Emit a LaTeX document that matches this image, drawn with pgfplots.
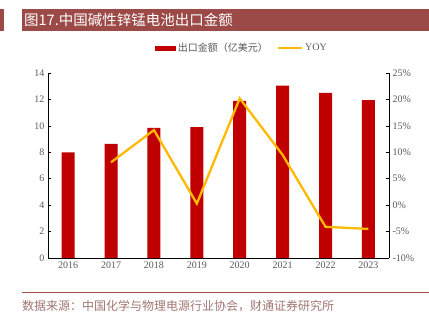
\documentclass[border=0pt]{standalone}
\usepackage{pgfplots}
\pgfplotsset{compat=1.18}
\usepackage{fontspec}
\setmainfont{Liberation Serif}
\newfontfamily\cjk{Noto Sans CJK SC}
\definecolor{barred}{HTML}{C00000}
\definecolor{yoy}{HTML}{FFB900}
\definecolor{titlebar}{HTML}{9B4A47}
\definecolor{srctext}{HTML}{A07672}
\definecolor{ticktext}{HTML}{595959}
\begin{document}
\begin{tikzpicture}
\useasboundingbox (0,0) rectangle (429bp,-326bp);
\fill[titlebar] (0,-9bp) rectangle (4bp,-31bp);
\fill[titlebar] (22bp,-9bp) rectangle (429bp,-31bp);
\node[anchor=west,text=white,inner sep=0pt,font=\cjk\fontsize{14.5bp}{16bp}\selectfont] at (24bp,-20bp) {图17.中国碱性锌锰电池出口金额};
\draw[titlebar,line width=0.8bp] (22bp,-292bp) -- (429bp,-292bp);
\node[anchor=west,text=srctext,inner sep=0pt,font=\cjk\fontsize{12bp}{14bp}\selectfont] at (22bp,-306bp) {数据来源：中国化学与物理电源行业协会，财通证券研究所};
\begin{axis}[
  at={(48bp,-258bp)}, anchor=south west,
  scale only axis, width=341bp, height=185bp,
  xmin=-0.47, xmax=7.48, ymin=0, ymax=14,
  axis lines*=left,
  axis line style={black, line width=0.7bp},
  xtick={0,...,7}, xticklabels={2016,2017,2018,2019,2020,2021,2022,2023},
  x tick style={draw=none},
  ytick={0,2,...,14},
  tick align=inside, major tick length=3bp,
  y tick style={black, line width=0.6bp},
  tick label style={font=\fontsize{10bp}{12bp}\selectfont, text=ticktext},
  /pgf/number format/assume math mode=true,
  legend style={draw=none, fill=none, at={(0.304,1.135)}, anchor=west, legend columns=2,
    font=\fontsize{10bp}{12bp}\selectfont, text=ticktext,
    /tikz/every even column/.append style={column sep=7bp}},
  clip=false,
]
\addplot[ybar, bar width=13bp, fill=barred, draw=none,
  legend image code/.code={\fill[barred] (0bp,-2.5bp) rectangle (21bp,2.5bp);}]
  coordinates {(0,8.0) (1,8.64) (2,9.85) (3,9.9) (4,11.9) (5,13.05) (6,12.5) (7,11.95)};
\addlegendentry{{\cjk 出口金额（亿美元）}}
\addlegendimage{yoy, line width=2.3bp, legend image code/.code={\draw[yoy,line width=2.3bp] (0bp,0bp) -- (24bp,0bp);}}
\addlegendentry{YOY}
\end{axis}
\begin{axis}[
  at={(48bp,-258bp)}, anchor=south west,
  scale only axis, width=341bp, height=185bp,
  xmin=-0.47, xmax=7.48, ymin=-10, ymax=25,
  axis x line=none,
  axis y line*=right,
  axis line style={black, line width=0.7bp},
  ytick={-10,-5,...,25},
  yticklabel={\pgfmathprintnumber{\tick}\%},
  tick align=inside, major tick length=3bp,
  y tick style={black, line width=0.6bp},
  tick label style={font=\fontsize{10bp}{12bp}\selectfont, text=ticktext},
  /pgf/number format/assume math mode=true,
]
\addplot[yoy, line width=2.3bp, mark=none] coordinates {(1,8.1) (2,14.2) (3,0.3) (4,20.2) (5,9.5) (6,-4.1) (7,-4.5)};
\end{axis}
\end{tikzpicture}
\end{document}
